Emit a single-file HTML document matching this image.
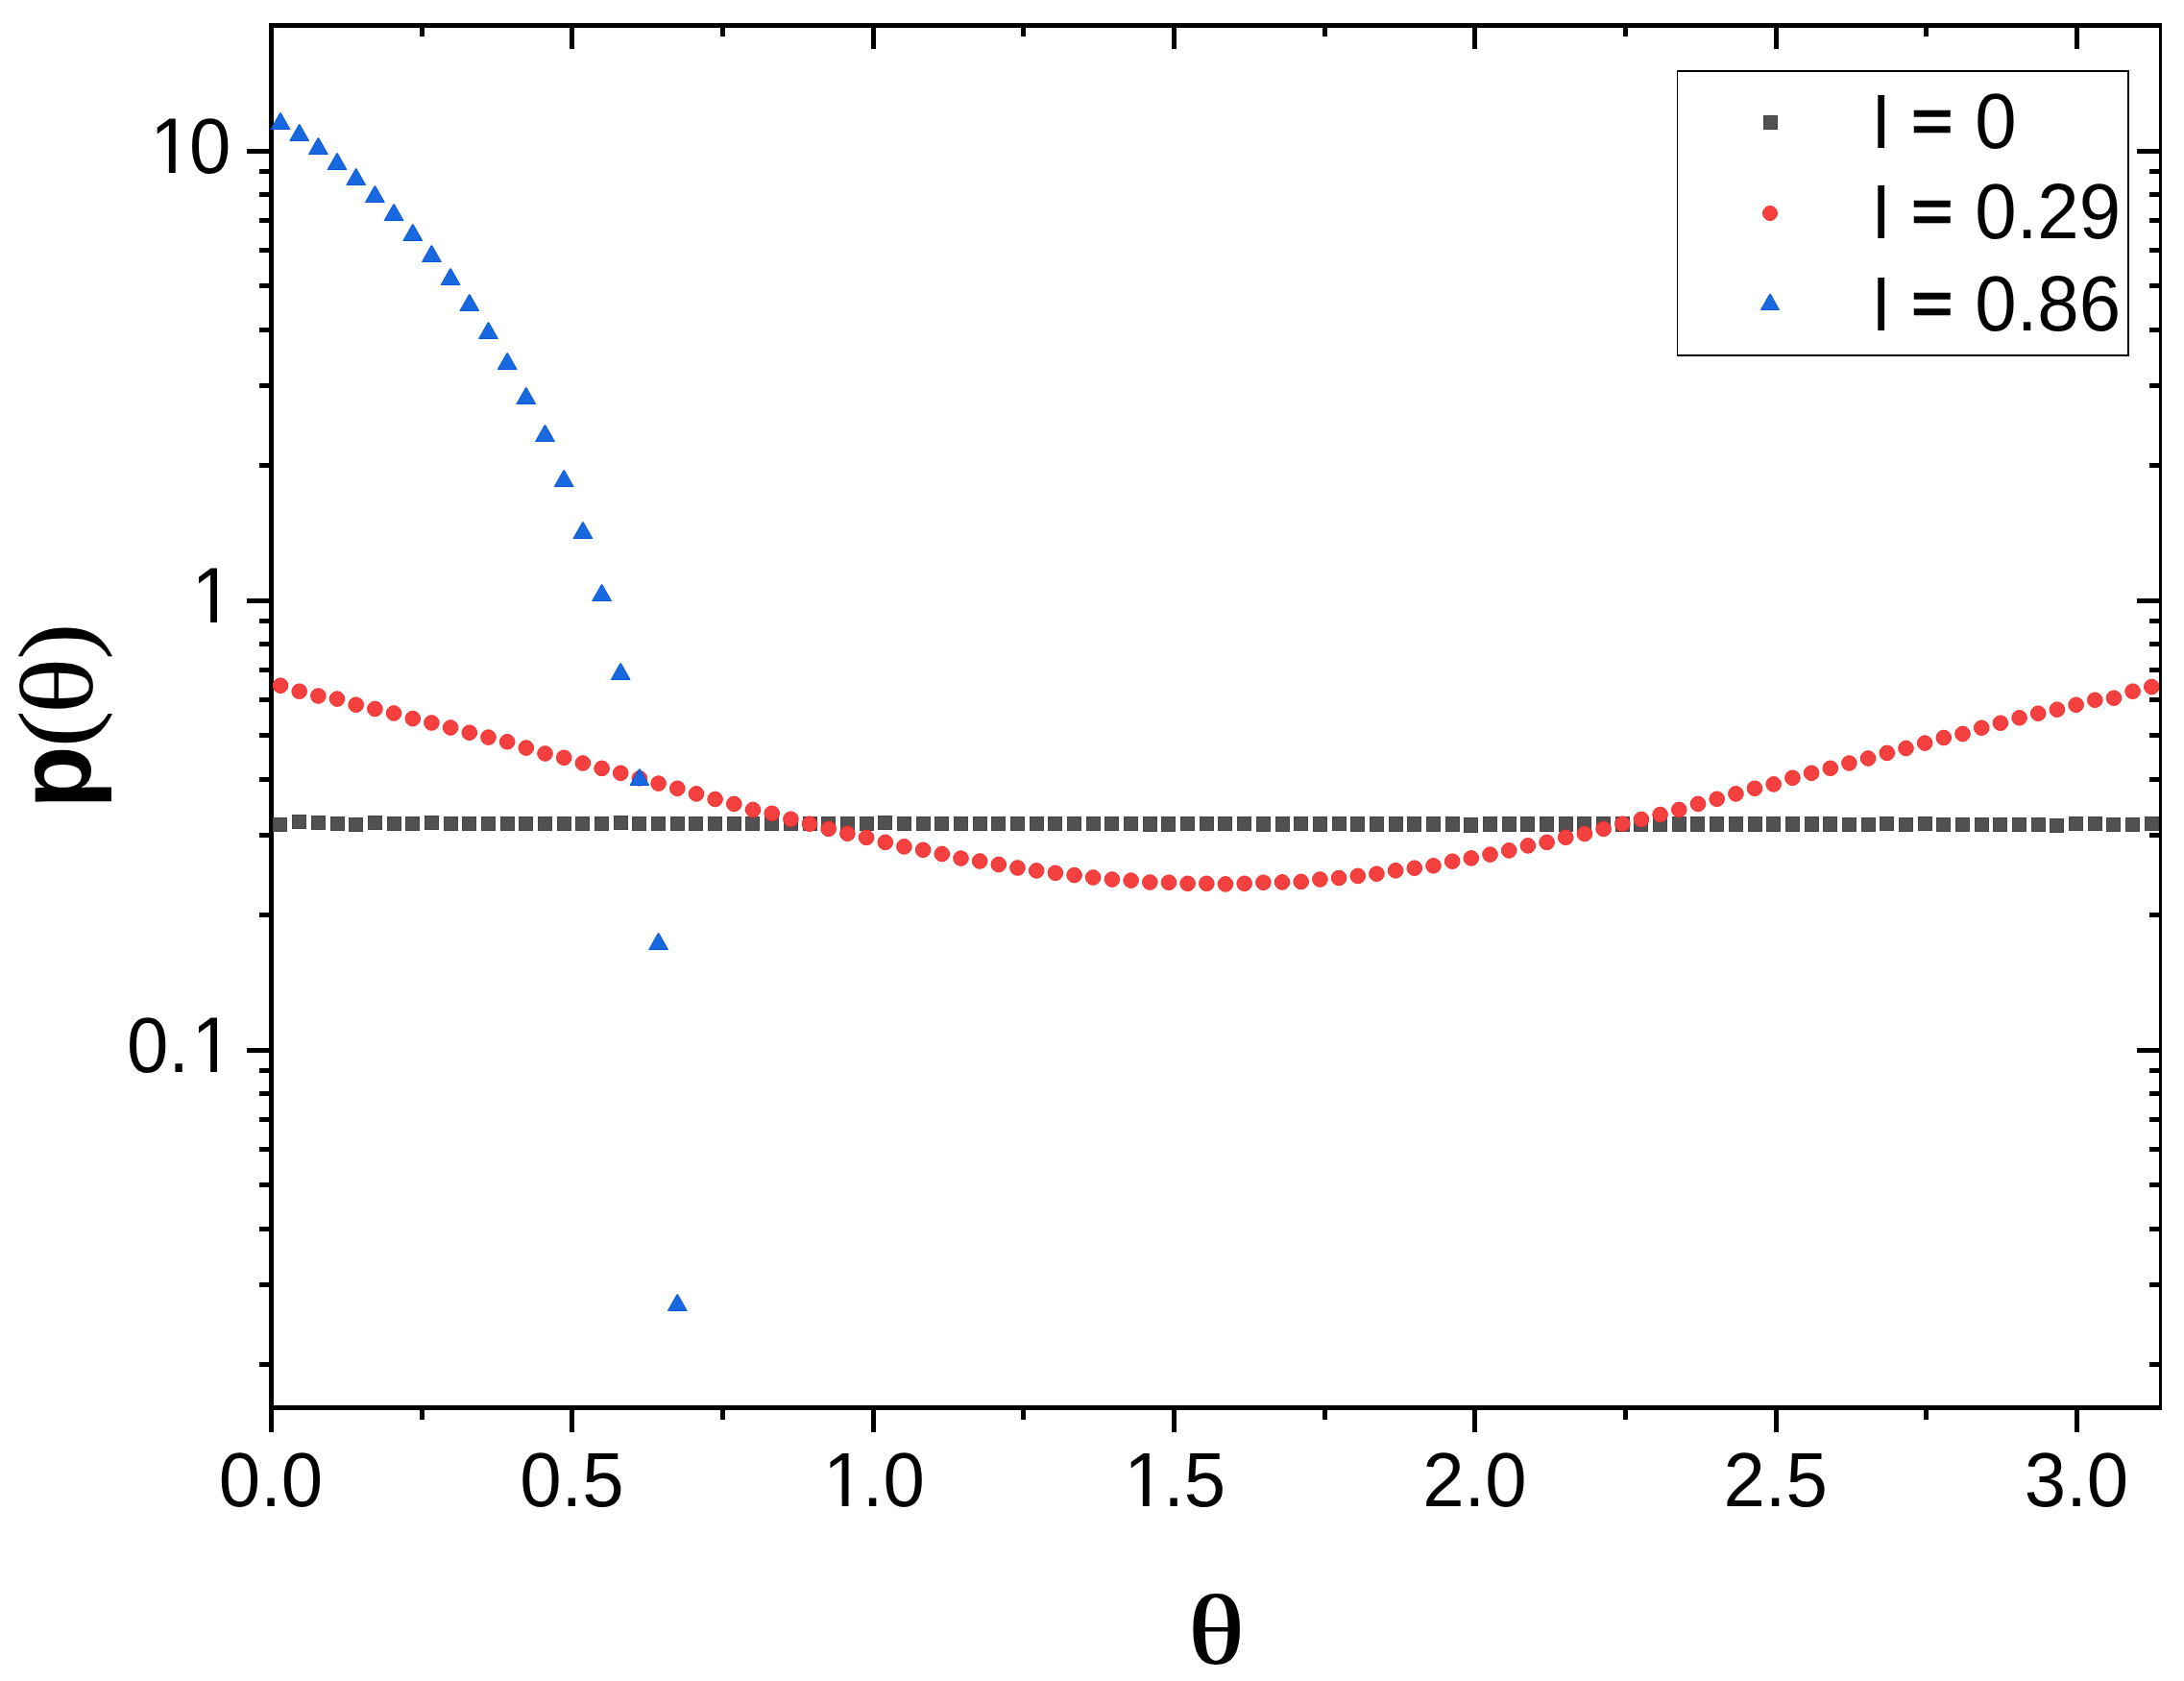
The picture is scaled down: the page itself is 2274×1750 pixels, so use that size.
<!DOCTYPE html>
<html><head><meta charset="utf-8"><title>p(θ)</title>
<style>html,body{margin:0;padding:0;background:#fff;}body{width:2274px;height:1750px;overflow:hidden;}svg{display:block;}.t{font-family:"Liberation Sans",sans-serif;font-size:78px;fill:#000;}.s{font-family:"Liberation Serif",serif;fill:#000;}</style></head><body>
<svg width="2274" height="1750" viewBox="0 0 2274 1750">
<rect width="2274" height="1750" fill="#fff"/>
<g fill="#000" shape-rendering="crispEdges">
<rect x="280" y="24" width="5" height="1467"/>
<rect x="280" y="24" width="1971" height="5"/>
<rect x="280" y="1463" width="1971" height="5"/>
<rect x="2248" y="24" width="3" height="1444"/>
<rect x="437" y="1468" width="5" height="10"/>
<rect x="437" y="29" width="5" height="9"/>
<rect x="593" y="1468" width="5" height="23"/>
<rect x="593" y="29" width="5" height="22"/>
<rect x="750" y="1468" width="5" height="10"/>
<rect x="750" y="29" width="5" height="9"/>
<rect x="907" y="1468" width="5" height="23"/>
<rect x="907" y="29" width="5" height="22"/>
<rect x="1063" y="1468" width="5" height="10"/>
<rect x="1063" y="29" width="5" height="9"/>
<rect x="1220" y="1468" width="5" height="23"/>
<rect x="1220" y="29" width="5" height="22"/>
<rect x="1377" y="1468" width="5" height="10"/>
<rect x="1377" y="29" width="5" height="9"/>
<rect x="1533" y="1468" width="5" height="23"/>
<rect x="1533" y="29" width="5" height="22"/>
<rect x="1690" y="1468" width="5" height="10"/>
<rect x="1690" y="29" width="5" height="9"/>
<rect x="1847" y="1468" width="5" height="23"/>
<rect x="1847" y="29" width="5" height="22"/>
<rect x="2003" y="1468" width="5" height="10"/>
<rect x="2003" y="29" width="5" height="9"/>
<rect x="2160" y="1468" width="5" height="23"/>
<rect x="2160" y="29" width="5" height="22"/>
<rect x="270" y="1418" width="10" height="5"/>
<rect x="2238" y="1418" width="10" height="5"/>
<rect x="270" y="1335" width="10" height="5"/>
<rect x="2238" y="1335" width="10" height="5"/>
<rect x="270" y="1277" width="10" height="5"/>
<rect x="2238" y="1277" width="10" height="5"/>
<rect x="270" y="1231" width="10" height="5"/>
<rect x="2238" y="1231" width="10" height="5"/>
<rect x="270" y="1194" width="10" height="5"/>
<rect x="2238" y="1194" width="10" height="5"/>
<rect x="270" y="1163" width="10" height="5"/>
<rect x="2238" y="1163" width="10" height="5"/>
<rect x="270" y="1136" width="10" height="5"/>
<rect x="2238" y="1136" width="10" height="5"/>
<rect x="270" y="1112" width="10" height="5"/>
<rect x="2238" y="1112" width="10" height="5"/>
<rect x="257" y="1091" width="23" height="5"/>
<rect x="2225" y="1091" width="23" height="5"/>
<rect x="270" y="950" width="10" height="5"/>
<rect x="2238" y="950" width="10" height="5"/>
<rect x="270" y="867" width="10" height="5"/>
<rect x="2238" y="867" width="10" height="5"/>
<rect x="270" y="809" width="10" height="5"/>
<rect x="2238" y="809" width="10" height="5"/>
<rect x="270" y="763" width="10" height="5"/>
<rect x="2238" y="763" width="10" height="5"/>
<rect x="270" y="726" width="10" height="5"/>
<rect x="2238" y="726" width="10" height="5"/>
<rect x="270" y="695" width="10" height="5"/>
<rect x="2238" y="695" width="10" height="5"/>
<rect x="270" y="668" width="10" height="5"/>
<rect x="2238" y="668" width="10" height="5"/>
<rect x="270" y="644" width="10" height="5"/>
<rect x="2238" y="644" width="10" height="5"/>
<rect x="257" y="623" width="23" height="5"/>
<rect x="2225" y="623" width="23" height="5"/>
<rect x="270" y="482" width="10" height="5"/>
<rect x="2238" y="482" width="10" height="5"/>
<rect x="270" y="399" width="10" height="5"/>
<rect x="2238" y="399" width="10" height="5"/>
<rect x="270" y="341" width="10" height="5"/>
<rect x="2238" y="341" width="10" height="5"/>
<rect x="270" y="295" width="10" height="5"/>
<rect x="2238" y="295" width="10" height="5"/>
<rect x="270" y="258" width="10" height="5"/>
<rect x="2238" y="258" width="10" height="5"/>
<rect x="270" y="227" width="10" height="5"/>
<rect x="2238" y="227" width="10" height="5"/>
<rect x="270" y="200" width="10" height="5"/>
<rect x="2238" y="200" width="10" height="5"/>
<rect x="270" y="176" width="10" height="5"/>
<rect x="2238" y="176" width="10" height="5"/>
<rect x="257" y="155" width="23" height="5"/>
<rect x="2225" y="155" width="23" height="5"/>
</g>
<text class="t" transform="translate(282.00,1568) scale(1,1.012)" text-anchor="middle">0.0</text>
<text class="t" transform="translate(595.34,1568) scale(1,1.012)" text-anchor="middle">0.5</text>
<text class="t" transform="translate(907.42,1568) scale(1,1.012)" text-anchor="middle"><tspan dx="2.5">1</tspan><tspan dx="-2.5">.0</tspan></text>
<text class="t" transform="translate(1220.75,1568) scale(1,1.012)" text-anchor="middle"><tspan dx="2.5">1</tspan><tspan dx="-2.5">.5</tspan></text>
<text class="t" transform="translate(1535.34,1568) scale(1,1.012)" text-anchor="middle">2.0</text>
<text class="t" transform="translate(1848.67,1568) scale(1,1.012)" text-anchor="middle">2.5</text>
<text class="t" transform="translate(2162.01,1568) scale(1,1.012)" text-anchor="middle">3.0</text>
<text class="t" transform="translate(237.9,179.9) scale(1,1.040)" text-anchor="end"><tspan dx="2.5">1</tspan><tspan dx="-2.5">0</tspan></text>
<text class="t" transform="translate(242.9,647.9) scale(1,1.040)" text-anchor="end">1</text>
<text class="t" transform="translate(242.9,1115.9) scale(1,1.040)" text-anchor="end">0.<tspan dx="2.5">1</tspan></text>
<g fill="#fff">
<rect x="161" y="173" width="14.86" height="8"/>
<rect x="182.73" y="173" width="14.27" height="8"/>
<rect x="204" y="641" width="15.13" height="8"/>
<rect x="226" y="641" width="14" height="8"/>
<rect x="204" y="1109" width="15.13" height="8"/>
<rect x="226" y="1109" width="14" height="8"/>
<rect x="862" y="1561" width="14.62" height="8"/>
<rect x="883.49" y="1561" width="14.51" height="8"/>
<rect x="1175" y="1561" width="14.86" height="8"/>
<rect x="1196.73" y="1561" width="14.27" height="8"/>
</g>
<text transform="translate(94.00,809.00) rotate(-90) scale(1.000,1)" text-anchor="middle" style="font-family:'Liberation Sans',sans-serif;font-weight:bold;font-size:107px">p</text>
<text class="s" transform="translate(94.40,759.00) rotate(-90) scale(1.090,1)" text-anchor="middle" style="font-size:108px">(</text>
<text class="s" transform="translate(95.60,714.00) rotate(-90) scale(1.140,1)" text-anchor="middle" style="font-size:108px">θ</text>
<text class="s" transform="translate(94.40,667.80) rotate(-90) scale(1.070,1)" text-anchor="middle" style="font-size:108px">)</text>
<defs><filter id="hb" x="-10%" y="-10%" width="120%" height="120%"><feMorphology operator="dilate" radius="1 0"/></filter></defs>
<text class="s" transform="translate(1266.3,1732.2) scale(1.143,1)" text-anchor="middle" filter="url(#hb)" style="font-size:104.7px">θ</text>
<defs><clipPath id="cp"><rect x="282" y="26" width="1966" height="1440"/></clipPath></defs>
<g clip-path="url(#cp)">
<g fill="#515151" stroke="#454545" stroke-width="1">
<rect x="284.5" y="851.5" width="14" height="14"/>
<rect x="304.5" y="848.5" width="14" height="14"/>
<rect x="324.5" y="849.5" width="14" height="14"/>
<rect x="344.5" y="850.5" width="14" height="14"/>
<rect x="363.5" y="851.5" width="14" height="14"/>
<rect x="383.5" y="849.5" width="14" height="14"/>
<rect x="403.5" y="850.5" width="14" height="14"/>
<rect x="422.5" y="850.5" width="14" height="14"/>
<rect x="442.5" y="849.5" width="14" height="14"/>
<rect x="462.5" y="850.5" width="14" height="14"/>
<rect x="481.5" y="850.5" width="14" height="14"/>
<rect x="501.5" y="850.5" width="14" height="14"/>
<rect x="521.5" y="850.5" width="14" height="14"/>
<rect x="540.5" y="850.5" width="14" height="14"/>
<rect x="560.5" y="850.5" width="14" height="14"/>
<rect x="580.5" y="850.5" width="14" height="14"/>
<rect x="599.5" y="850.5" width="14" height="14"/>
<rect x="619.5" y="850.5" width="14" height="14"/>
<rect x="639.5" y="849.5" width="14" height="14"/>
<rect x="658.5" y="850.5" width="14" height="14"/>
<rect x="678.5" y="850.5" width="14" height="14"/>
<rect x="698.5" y="850.5" width="14" height="14"/>
<rect x="717.5" y="850.5" width="14" height="14"/>
<rect x="737.5" y="850.5" width="14" height="14"/>
<rect x="757.5" y="850.5" width="14" height="14"/>
<rect x="776.5" y="850.5" width="14" height="14"/>
<rect x="796.5" y="850.5" width="14" height="14"/>
<rect x="816.5" y="850.5" width="14" height="14"/>
<rect x="836.5" y="850.5" width="14" height="14"/>
<rect x="855.5" y="850.5" width="14" height="14"/>
<rect x="875.5" y="850.5" width="14" height="14"/>
<rect x="895.5" y="850.5" width="14" height="14"/>
<rect x="914.5" y="849.5" width="14" height="14"/>
<rect x="934.5" y="850.5" width="14" height="14"/>
<rect x="954.5" y="850.5" width="14" height="14"/>
<rect x="973.5" y="850.5" width="14" height="14"/>
<rect x="993.5" y="850.5" width="14" height="14"/>
<rect x="1013.5" y="850.5" width="14" height="14"/>
<rect x="1032.5" y="850.5" width="14" height="14"/>
<rect x="1052.5" y="850.5" width="14" height="14"/>
<rect x="1072.5" y="850.5" width="14" height="14"/>
<rect x="1091.5" y="850.5" width="14" height="14"/>
<rect x="1111.5" y="850.5" width="14" height="14"/>
<rect x="1131.5" y="850.5" width="14" height="14"/>
<rect x="1150.5" y="850.5" width="14" height="14"/>
<rect x="1170.5" y="850.5" width="14" height="14"/>
<rect x="1190.5" y="850.5" width="14" height="15"/>
<rect x="1209.5" y="850.5" width="14" height="15"/>
<rect x="1229.5" y="850.5" width="14" height="14"/>
<rect x="1249.5" y="850.5" width="14" height="14"/>
<rect x="1268.5" y="850.5" width="14" height="14"/>
<rect x="1288.5" y="850.5" width="14" height="14"/>
<rect x="1308.5" y="850.5" width="14" height="15"/>
<rect x="1328.5" y="850.5" width="14" height="15"/>
<rect x="1347.5" y="850.5" width="14" height="14"/>
<rect x="1367.5" y="850.5" width="14" height="15"/>
<rect x="1387.5" y="850.5" width="14" height="14"/>
<rect x="1406.5" y="850.5" width="14" height="15"/>
<rect x="1426.5" y="850.5" width="14" height="15"/>
<rect x="1446.5" y="850.5" width="14" height="15"/>
<rect x="1465.5" y="850.5" width="14" height="15"/>
<rect x="1485.5" y="850.5" width="14" height="15"/>
<rect x="1505.5" y="850.5" width="14" height="15"/>
<rect x="1524.5" y="851.5" width="14" height="15"/>
<rect x="1544.5" y="850.5" width="14" height="15"/>
<rect x="1564.5" y="850.5" width="14" height="15"/>
<rect x="1583.5" y="850.5" width="14" height="15"/>
<rect x="1603.5" y="850.5" width="14" height="15"/>
<rect x="1623.5" y="850.5" width="14" height="15"/>
<rect x="1642.5" y="850.5" width="14" height="15"/>
<rect x="1662.5" y="850.5" width="14" height="15"/>
<rect x="1682.5" y="850.5" width="14" height="15"/>
<rect x="1701.5" y="850.5" width="14" height="15"/>
<rect x="1721.5" y="850.5" width="14" height="15"/>
<rect x="1741.5" y="850.5" width="14" height="15"/>
<rect x="1760.5" y="850.5" width="14" height="15"/>
<rect x="1780.5" y="850.5" width="14" height="15"/>
<rect x="1800.5" y="850.5" width="14" height="15"/>
<rect x="1820.5" y="850.5" width="14" height="15"/>
<rect x="1839.5" y="850.5" width="14" height="15"/>
<rect x="1859.5" y="850.5" width="14" height="15"/>
<rect x="1879.5" y="850.5" width="14" height="15"/>
<rect x="1898.5" y="850.5" width="14" height="15"/>
<rect x="1918.5" y="851.5" width="14" height="14"/>
<rect x="1938.5" y="851.5" width="14" height="14"/>
<rect x="1957.5" y="850.5" width="14" height="14"/>
<rect x="1977.5" y="851.5" width="14" height="14"/>
<rect x="1997.5" y="850.5" width="14" height="14"/>
<rect x="2016.5" y="851.5" width="14" height="14"/>
<rect x="2036.5" y="851.5" width="14" height="14"/>
<rect x="2056.5" y="851.5" width="14" height="14"/>
<rect x="2075.5" y="851.5" width="14" height="14"/>
<rect x="2095.5" y="851.5" width="14" height="14"/>
<rect x="2115.5" y="851.5" width="14" height="14"/>
<rect x="2134.5" y="852.5" width="14" height="14"/>
<rect x="2154.5" y="850.5" width="14" height="14"/>
<rect x="2174.5" y="850.5" width="14" height="14"/>
<rect x="2193.5" y="851.5" width="14" height="14"/>
<rect x="2213.5" y="851.5" width="14" height="14"/>
<rect x="2233.5" y="850.5" width="14" height="14"/>
</g>
<g fill="#f54040" stroke="#f52d2d" stroke-width="1">
<circle cx="292.0" cy="713.7" r="7.8"/>
<circle cx="311.7" cy="719.7" r="7.8"/>
<circle cx="331.4" cy="724.5" r="7.8"/>
<circle cx="351.0" cy="727.6" r="7.8"/>
<circle cx="370.7" cy="733.7" r="7.8"/>
<circle cx="390.4" cy="738.0" r="7.8"/>
<circle cx="410.1" cy="742.5" r="7.8"/>
<circle cx="429.8" cy="748.1" r="7.8"/>
<circle cx="449.4" cy="752.5" r="7.8"/>
<circle cx="469.1" cy="757.5" r="7.8"/>
<circle cx="488.8" cy="762.7" r="7.8"/>
<circle cx="508.5" cy="767.6" r="7.8"/>
<circle cx="528.2" cy="772.3" r="7.8"/>
<circle cx="547.8" cy="778.6" r="7.8"/>
<circle cx="567.5" cy="784.5" r="7.8"/>
<circle cx="587.2" cy="788.8" r="7.8"/>
<circle cx="606.9" cy="794.5" r="7.8"/>
<circle cx="626.6" cy="799.9" r="7.8"/>
<circle cx="646.2" cy="804.8" r="7.8"/>
<circle cx="665.9" cy="810.3" r="7.8"/>
<circle cx="685.6" cy="815.6" r="7.8"/>
<circle cx="705.3" cy="820.8" r="7.8"/>
<circle cx="725.0" cy="826.4" r="7.8"/>
<circle cx="744.6" cy="832.0" r="7.8"/>
<circle cx="764.3" cy="836.9" r="7.8"/>
<circle cx="784.0" cy="843.0" r="7.8"/>
<circle cx="803.7" cy="846.8" r="7.8"/>
<circle cx="823.4" cy="852.7" r="7.8"/>
<circle cx="843.0" cy="857.7" r="7.8"/>
<circle cx="862.7" cy="862.9" r="7.8"/>
<circle cx="882.4" cy="867.8" r="7.8"/>
<circle cx="902.1" cy="871.9" r="7.8"/>
<circle cx="921.8" cy="876.9" r="7.8"/>
<circle cx="941.4" cy="881.4" r="7.8"/>
<circle cx="961.1" cy="884.8" r="7.8"/>
<circle cx="980.8" cy="889.0" r="7.8"/>
<circle cx="1000.5" cy="893.6" r="7.8"/>
<circle cx="1020.2" cy="896.5" r="7.8"/>
<circle cx="1039.8" cy="900.0" r="7.8"/>
<circle cx="1059.5" cy="903.5" r="7.8"/>
<circle cx="1079.2" cy="906.4" r="7.8"/>
<circle cx="1098.9" cy="908.8" r="7.8"/>
<circle cx="1118.6" cy="911.1" r="7.8"/>
<circle cx="1138.2" cy="913.5" r="7.8"/>
<circle cx="1157.9" cy="915.5" r="7.8"/>
<circle cx="1177.6" cy="916.6" r="7.8"/>
<circle cx="1197.3" cy="918.5" r="7.8"/>
<circle cx="1217.0" cy="918.7" r="7.8"/>
<circle cx="1236.6" cy="919.8" r="7.8"/>
<circle cx="1256.3" cy="919.8" r="7.8"/>
<circle cx="1276.0" cy="920.4" r="7.8"/>
<circle cx="1295.7" cy="919.8" r="7.8"/>
<circle cx="1315.4" cy="918.7" r="7.8"/>
<circle cx="1335.0" cy="918.4" r="7.8"/>
<circle cx="1354.7" cy="917.9" r="7.8"/>
<circle cx="1374.4" cy="915.5" r="7.8"/>
<circle cx="1394.1" cy="914.0" r="7.8"/>
<circle cx="1413.8" cy="911.9" r="7.8"/>
<circle cx="1433.4" cy="909.7" r="7.8"/>
<circle cx="1453.1" cy="906.3" r="7.8"/>
<circle cx="1472.8" cy="903.7" r="7.8"/>
<circle cx="1492.5" cy="901.3" r="7.8"/>
<circle cx="1512.2" cy="896.7" r="7.8"/>
<circle cx="1531.8" cy="893.4" r="7.8"/>
<circle cx="1551.5" cy="889.6" r="7.8"/>
<circle cx="1571.2" cy="885.4" r="7.8"/>
<circle cx="1590.9" cy="880.4" r="7.8"/>
<circle cx="1610.6" cy="876.9" r="7.8"/>
<circle cx="1630.2" cy="871.8" r="7.8"/>
<circle cx="1649.9" cy="868.0" r="7.8"/>
<circle cx="1669.6" cy="863.0" r="7.8"/>
<circle cx="1689.3" cy="857.7" r="7.8"/>
<circle cx="1709.0" cy="853.0" r="7.8"/>
<circle cx="1728.6" cy="848.0" r="7.8"/>
<circle cx="1748.3" cy="842.9" r="7.8"/>
<circle cx="1768.0" cy="836.9" r="7.8"/>
<circle cx="1787.7" cy="831.8" r="7.8"/>
<circle cx="1807.4" cy="826.4" r="7.8"/>
<circle cx="1827.0" cy="820.8" r="7.8"/>
<circle cx="1846.7" cy="816.4" r="7.8"/>
<circle cx="1866.4" cy="809.8" r="7.8"/>
<circle cx="1886.1" cy="804.8" r="7.8"/>
<circle cx="1905.8" cy="799.8" r="7.8"/>
<circle cx="1925.4" cy="794.5" r="7.8"/>
<circle cx="1945.1" cy="789.5" r="7.8"/>
<circle cx="1964.8" cy="783.9" r="7.8"/>
<circle cx="1984.5" cy="779.0" r="7.8"/>
<circle cx="2004.2" cy="773.6" r="7.8"/>
<circle cx="2023.8" cy="768.0" r="7.8"/>
<circle cx="2043.5" cy="764.0" r="7.8"/>
<circle cx="2063.2" cy="757.7" r="7.8"/>
<circle cx="2082.9" cy="752.7" r="7.8"/>
<circle cx="2102.6" cy="747.3" r="7.8"/>
<circle cx="2122.2" cy="742.7" r="7.8"/>
<circle cx="2141.9" cy="738.7" r="7.8"/>
<circle cx="2161.6" cy="733.8" r="7.8"/>
<circle cx="2181.3" cy="728.8" r="7.8"/>
<circle cx="2201.0" cy="726.7" r="7.8"/>
<circle cx="2220.6" cy="719.7" r="7.8"/>
<circle cx="2240.3" cy="715.0" r="7.8"/>
</g>
<g fill="#1869e0" stroke="#0556db" stroke-width="1" stroke-linejoin="miter">
<path d="M282.1 134.5 L301.9 134.5 L292.4 117.7 L291.6 117.7 Z"/>
<path d="M301.8 146.5 L321.6 146.5 L312.1 129.7 L311.3 129.7 Z"/>
<path d="M321.5 160.5 L341.3 160.5 L331.8 143.7 L331.0 143.7 Z"/>
<path d="M341.1 176.5 L360.9 176.5 L351.4 159.7 L350.6 159.7 Z"/>
<path d="M360.8 192.5 L380.6 192.5 L371.1 175.7 L370.3 175.7 Z"/>
<path d="M380.5 210.5 L400.3 210.5 L390.8 193.7 L390.0 193.7 Z"/>
<path d="M400.2 229.5 L420.0 229.5 L410.5 212.7 L409.7 212.7 Z"/>
<path d="M419.9 250.5 L439.7 250.5 L430.2 233.7 L429.4 233.7 Z"/>
<path d="M439.5 272.5 L459.3 272.5 L449.8 255.7 L449.0 255.7 Z"/>
<path d="M459.2 296.5 L479.0 296.5 L469.5 279.7 L468.7 279.7 Z"/>
<path d="M478.9 323.5 L498.7 323.5 L489.2 306.7 L488.4 306.7 Z"/>
<path d="M498.6 352.5 L518.4 352.5 L508.9 335.7 L508.1 335.7 Z"/>
<path d="M518.3 384.5 L538.1 384.5 L528.6 367.7 L527.8 367.7 Z"/>
<path d="M537.9 420.5 L557.7 420.5 L548.2 403.7 L547.4 403.7 Z"/>
<path d="M557.6 459.5 L577.4 459.5 L567.9 442.7 L567.1 442.7 Z"/>
<path d="M577.3 506.5 L597.1 506.5 L587.6 489.7 L586.8 489.7 Z"/>
<path d="M597.0 560.5 L616.8 560.5 L607.3 543.7 L606.5 543.7 Z"/>
<path d="M616.7 625.5 L636.5 625.5 L627.0 608.7 L626.2 608.7 Z"/>
<path d="M636.3 707.5 L656.1 707.5 L646.6 690.7 L645.8 690.7 Z"/>
<path d="M656.0 817.5 L675.8 817.5 L666.3 800.7 L665.5 800.7 Z"/>
<path d="M675.7 988.5 L695.5 988.5 L686.0 971.7 L685.2 971.7 Z"/>
<path d="M695.4 1364.5 L715.2 1364.5 L705.7 1347.7 L704.9 1347.7 Z"/>
</g>
</g>
<g shape-rendering="crispEdges"><rect x="1746" y="73" width="471" height="298" fill="#000"/><rect x="1747" y="75" width="468" height="294" fill="#fff"/></g>
<rect x="1836.5" y="120.5" width="14" height="14" fill="#515151" stroke="#454545" stroke-width="1"/>
<circle cx="1843" cy="222" r="7.5" fill="#f54040" stroke="#f52d2d" stroke-width="1"/>
<path d="M1833.5 322.5 L1852.5 322.5 L1843.4 306.2 L1842.6 306.2 Z" fill="#1869e0" stroke="#0556db" stroke-width="1"/>
<text class="t" transform="translate(1950,153.8) scale(1,0.985)">l</text>
<text class="t" transform="translate(1990.4,147.70) scale(0.935,0.83)" stroke="#000" stroke-width="2.77" stroke-linejoin="miter">=</text>
<text class="t" transform="translate(2056.3,153.8) scale(1,1.035)">0</text>
<text class="t" transform="translate(1950,248.3) scale(1,0.985)">l</text>
<text class="t" transform="translate(1990.4,242.20) scale(0.935,0.83)" stroke="#000" stroke-width="2.77" stroke-linejoin="miter">=</text>
<text class="t" transform="translate(2056.3,248.3) scale(1,1.035)">0.29</text>
<text class="t" transform="translate(1950,344.0) scale(1,0.985)">l</text>
<text class="t" transform="translate(1990.4,337.90) scale(0.935,0.83)" stroke="#000" stroke-width="2.77" stroke-linejoin="miter">=</text>
<text class="t" transform="translate(2056.3,344.0) scale(1,1.035)">0.86</text>
</svg></body></html>
